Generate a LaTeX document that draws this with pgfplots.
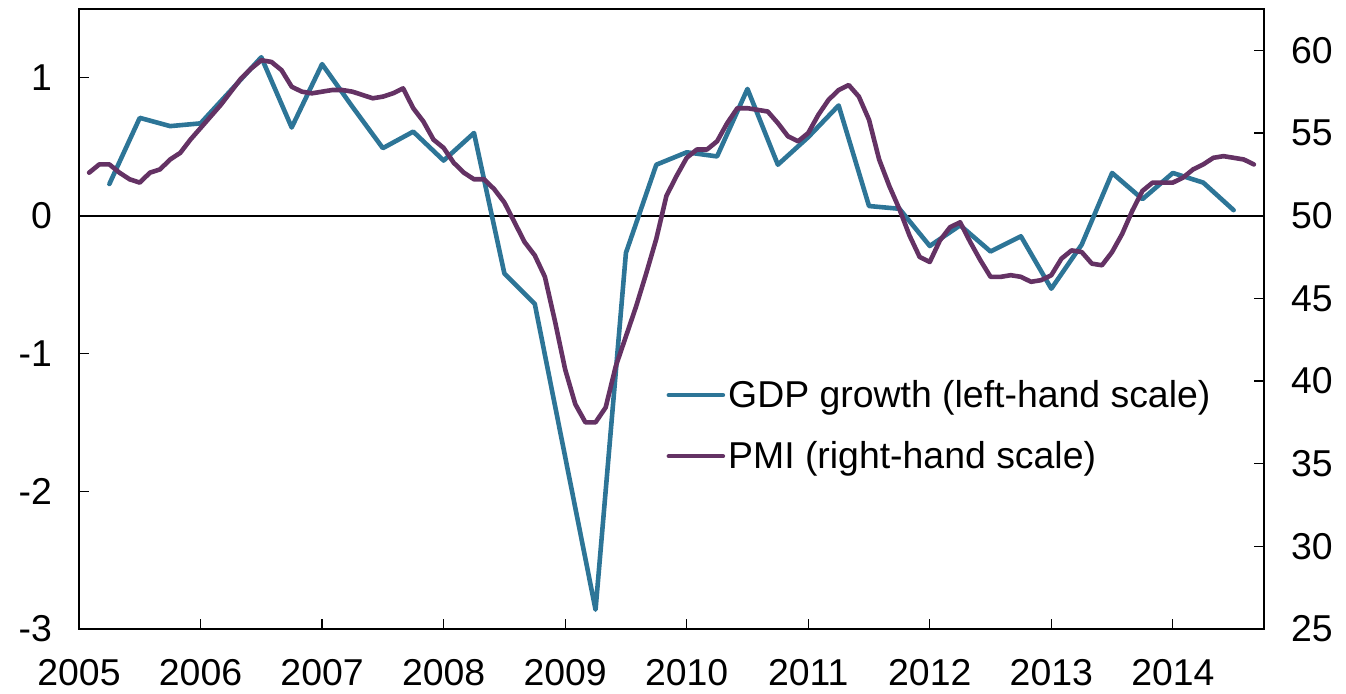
\documentclass[border=0pt]{standalone}
\usepackage{fontspec}
\setmainfont{Liberation Sans}
\usepackage{pgfplots}
\pgfplotsset{compat=1.18}
\usepackage{pgfplotstable}
\definecolor{gdp}{HTML}{2D7597}
\definecolor{pmi}{HTML}{643264}

\pgfplotstableread{
q v
2005.25 0.23
2005.50 0.71
2005.75 0.65
2006.00 0.67
2006.25 0.91
2006.50 1.15
2006.75 0.64
2007.00 1.10
2007.25 0.79
2007.50 0.49
2007.75 0.61
2008.00 0.40
2008.25 0.60
2008.50 -0.42
2008.75 -0.64
2009.00 -1.75
2009.25 -2.86
2009.50 -0.27
2009.75 0.37
2010.00 0.46
2010.25 0.43
2010.50 0.92
2010.75 0.37
2011.00 0.57
2011.25 0.80
2011.50 0.07
2011.75 0.05
2012.00 -0.22
2012.25 -0.07
2012.50 -0.26
2012.75 -0.15
2013.00 -0.53
2013.25 -0.21
2013.50 0.31
2013.75 0.12
2014.00 0.31
2014.25 0.24
2014.50 0.04
}\gdpdata

\pgfplotstableread{
t p
1 52.6
2 53.1
3 53.1
4 52.6
5 52.2
6 52.0
7 52.6
8 52.8
9 53.4
10 53.8
11 54.6
12 55.3
13 56.0
14 56.7
15 57.5
16 58.3
17 58.9
18 59.4
19 59.3
20 58.8
21 57.8
22 57.5
23 57.4
24 57.5
25 57.6
26 57.6
27 57.5
28 57.3
29 57.1
30 57.2
31 57.4
32 57.7
33 56.5
34 55.7
35 54.6
36 54.1
37 53.2
38 52.6
39 52.2
40 52.2
41 51.6
42 50.8
43 49.6
44 48.4
45 47.6
46 46.3
47 43.6
48 40.7
49 38.6
50 37.5
51 37.5
52 38.4
53 40.9
54 42.7
55 44.5
56 46.5
57 48.6
58 51.2
59 52.4
60 53.5
61 54.0
62 54.0
63 54.5
64 55.6
65 56.5
66 56.5
67 56.4
68 56.3
69 55.6
70 54.8
71 54.5
72 55.0
73 56.1
74 57.0
75 57.6
76 57.9
77 57.2
78 55.8
79 53.4
80 51.8
81 50.4
82 48.8
83 47.5
84 47.2
85 48.5
86 49.3
87 49.6
88 48.4
89 47.3
90 46.3
91 46.3
92 46.4
93 46.3
94 46.0
95 46.1
96 46.4
97 47.4
98 47.9
99 47.8
100 47.1
101 47.0
102 47.8
103 48.9
104 50.3
105 51.5
106 52.0
107 52.0
108 52.0
109 52.3
110 52.8
111 53.1
112 53.5
113 53.6
114 53.5
115 53.4
116 53.1
}\pmidata

\newcommand{\chartfont}{\fontsize{18.7}{22}\selectfont}

\pgfplotsset{
  commonax/.style={
    at={(39.5pt,32pt)}, anchor=south west,
    scale only axis, width=592.5pt, height=310pt,
    xmin=2005, xmax=2014.75,
    tick align=inside,
    major tick length=5pt,
    axis line style={line width=1pt, black},
    major tick style={line width=0.6pt, black},
    tick label style={font=\chartfont},
  }
}

\begin{document}
\begin{tikzpicture}[x=1pt,y=1pt]
\path (0,0) rectangle (673,346.5);
\begin{axis}[
  commonax,
  ymin=-3, ymax=1.5,
  xtick={2005,2006,2007,2008,2009,2010,2011,2012,2013,2014},
  xticklabels={2005,2006,2007,2008,2009,2010,2011,2012,2013,2014},
  ytick={-3,-2,-1,0,1},
  yticklabels={-3,-2,-1,0,1},
  xtick pos=left, ytick pos=left,
  xticklabel style={yshift=-11.5pt},
  yticklabel style={xshift=-10pt},
  legend style={at={(0.4955,0.328)}, anchor=west, draw=none, fill=none,
    font=\chartfont, row sep=12.5pt, inner sep=0pt,
    nodes={inner sep=1.5pt}},
  legend cell align=left,
  legend image code/.code={\draw[#1] (0pt,0pt) -- (27pt,0pt);},
]
\addplot[forget plot, black, line width=1pt] coordinates {(2005,0) (2014.75,0)};
\addplot[gdp, line width=2.3pt, line cap=round, line join=round] table[x=q, y=v] {\gdpdata};
\addlegendentry{GDP growth (left-hand scale)}
\addlegendimage{pmi, line width=2.3pt, line cap=round}
\addlegendentry{PMI (right-hand scale)}
\end{axis}
\begin{axis}[
  commonax,
  ymin=25, ymax=62.5,
  axis x line=none,
  axis y line*=right,
  ytick={25,30,35,40,45,50,55,60},
  yticklabels={25,30,35,40,45,50,55,60},
  ytick pos=right,
  yticklabel style={xshift=10pt},
]
\addplot[pmi, line width=2.3pt, line cap=round, line join=round] table[x expr=2005+\thisrow{t}/12, y=p] {\pmidata};
\end{axis}
\end{tikzpicture}
\end{document}
